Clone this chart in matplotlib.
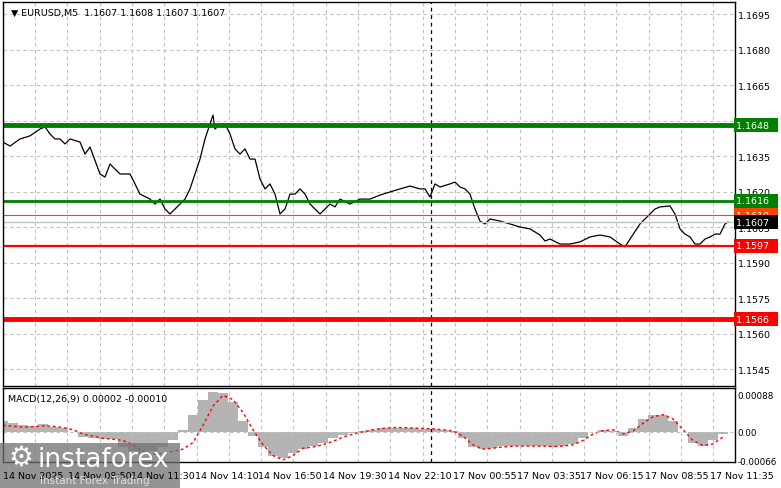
import matplotlib
matplotlib.use("Agg")
import matplotlib.pyplot as plt
import numpy as np
from matplotlib.patches import Rectangle

W, H = 781, 489
def p2price(y): return 1.1695 - (y - 15) / 23.667 * 0.001

# price path (bar position, price)
px = [3,10,20,30,40,45,50,55,60,65,70,80,85,90,100,105,110,115,120,130,135,140,150,155,160,165,170,175,180,185,190,195,200,205,210,213,215,220,225,230,235,240,245,250,255,260,265,270,275,280,285,290,295,300,305,310,315,320,325,330,335,340,350,360,370,380,390,400,410,420,425,430,435,440,450,455,460,465,470,475,480,485,490,500,510,520,530,540,545,550,560,570,580,590,600,610,620,625,630,640,645,650,655,660,670,675,680,685,690,695,700,705,710,715,720,725,728]
py = [143,147,140,137,130,128,135,140,140,145,140,143,155,148,175,178,165,170,175,175,185,195,200,205,200,210,215,210,205,200,190,175,160,140,125,116,130,125,125,135,150,155,150,160,160,180,190,185,195,215,210,195,195,190,195,205,210,215,210,205,208,200,205,200,200,196,193,190,187,190,190,198,185,188,185,183,188,190,195,210,222,225,220,222,225,228,230,236,242,240,245,245,243,238,236,238,245,248,240,225,220,215,210,208,207,215,230,235,238,245,245,240,238,235,235,225,223]
price = [round(p2price(v), 5) for v in py]

# MACD histogram and signal (units of 1e-5)
mx = list(range(3, 734, 10))
hist = [25,20,16,14,18,12,8,0,-11,-15,-16,-16,-35,-45,-50,-45,-35,-20,5,40,75,92,90,70,25,-10,-35,-55,-60,-50,-40,-33,-25,-15,-8,-3,2,5,8,10,10,9,7,6,4,2,-15,-35,-40,-38,-33,-32,-32,-32,-33,-34,-32,-28,-15,0,5,2,-10,8,30,40,40,25,0,-25,-32,-20,-5,0]
sig = [15,13,11,12,14,13,10,5,-5,-10,-15,-17,-20,-30,-45,-52,-50,-45,-40,-25,15,60,85,75,45,5,-30,-55,-65,-55,-38,-35,-30,-22,-12,-5,0,5,8,10,10,9,8,7,5,2,-10,-30,-40,-38,-35,-33,-33,-33,-33,-34,-33,-30,-20,-5,3,5,-5,2,20,35,40,30,5,-20,-32,-28,-12]
mlen = min(len(mx), len(hist), len(sig))
mx, hist, sig = mx[:mlen], hist[:mlen], sig[:mlen]

tick_pos = [3,68,131,195,258,323,388,453,517,580,645,710]
tick_lab = ["14 Nov 2025","14 Nov 08:50","14 Nov 11:30","14 Nov 14:10","14 Nov 16:50","14 Nov 19:30","14 Nov 22:10","17 Nov 00:55","17 Nov 03:35","17 Nov 06:15","17 Nov 08:55","17 Nov 11:35"]
price_ticks = [1.1695,1.1680,1.1665,1.1650,1.1635,1.1620,1.1605,1.1590,1.1575,1.1560,1.1545]
levels = [(1.1648,'#007f00',3.5),(1.1616,'#007f00',2),(1.1597,'#ff0000',1.6),(1.1566,'#ff0000',3.5)]

fig = plt.figure(figsize=(W/100, H/100), dpi=100)
fs = 6.8
ax = fig.add_axes([3/W, 1-387/H, 732/W, 384/H])
ax2 = fig.add_axes([3/W, 1-463/H, 732/W, 74/H])
xl = (3, 735)
for a in (ax, ax2):
    a.set_xlim(*xl)
    for s in a.spines.values(): s.set_color('black'); s.set_linewidth(1)
    a.tick_params(length=0, pad=2)
    a.set_xticks([])
    for g in np.arange(35, 735, 32.3):
        a.axvline(g, color='#c0c0c0', ls=(0,(3,3)), lw=0.8, zorder=0)
    a.axvline(431, color='black', ls=(0,(3,3)), lw=0.9)

ax.set_ylim(p2price(387), p2price(3))
for t in price_ticks:
    ax.axhline(t, color='#c0c0c0', ls=(0,(3,3)), lw=0.8, zorder=0)
ax.yaxis.tick_right()
ax.set_yticks(price_ticks, [f"{t:.4f}" for t in price_ticks], fontsize=fs)
ax.plot(px, price, color='black', lw=0.9)
ax.axhline(1.1610, color='#ff4500', lw=0.8)
ax.axhline(1.1607, color='#c0c0c0', lw=1)
for v, c, lw in levels:
    ax.axhline(v, color=c, lw=lw)
def tag(a, v, txt, bg):
    a.text(1.002, v, txt + "  ", transform=a.get_yaxis_transform(), fontsize=fs, color='white',
           va='center', ha='left', zorder=10, clip_on=False,
           bbox=dict(boxstyle='square,pad=0.25', fc=bg, ec='none'))
tag(ax, 1.1648, '1.1648', '#007f00')
tag(ax, 1.1616, '1.1616', '#007f00')
tag(ax, 1.1610, '1.1610', '#ff4500')
tag(ax, 1.1607, '1.1607', 'black')
tag(ax, 1.1597, '1.1597', '#ff0000')
tag(ax, 1.1566, '1.1566', '#ff0000')
ax.text(8/732, 0.985, "\u25bc EURUSD,M5  1.1607 1.1608 1.1607 1.1607", transform=ax.transAxes,
        fontsize=fs, va='top', ha='left')

hv = np.array(hist) * 1e-5
ax2.set_ylim(-0.0007, 0.00102)
ax2.bar(mx, hv, width=10, color='#b4b4b4', lw=0)
ax2.plot(mx, np.array(sig)*1e-5, color='red', ls=(0,(2,2)), lw=1)
ax2.axhline(0, color='#c0c0c0', ls=(0,(3,3)), lw=0.8)
ax2.yaxis.tick_right()
ax2.set_yticks([0.00088, 0.0, -0.00066], ["0.00088", "0.00", "-0.00066"], fontsize=6.3)
ax2.text(5/732, 0.92, "MACD(12,26,9) 0.00002 -0.00010", transform=ax2.transAxes, fontsize=fs, va='top')
for p, l in zip(tick_pos, tick_lab):
    fig.text(p/W, 1-477/H, l, fontsize=fs, ha='left', va='center')

fig.patches.append(Rectangle((0, 0), 180/W, 45/H, transform=fig.transFigure, fc='#707070', alpha=0.75, ec='none'))
fig.text(8/W, 1-458/H, "\u2699", fontsize=20, color='white', va='center')
fig.text(38/W, 1-460/H, "instaforex", fontsize=19, color='white', va='center')
fig.text(40/W, 1-481/H, "Instant Forex Trading", fontsize=7.5, color='#e0e0e0', va='center')

fig.savefig("out.png", dpi=100, facecolor='white')
